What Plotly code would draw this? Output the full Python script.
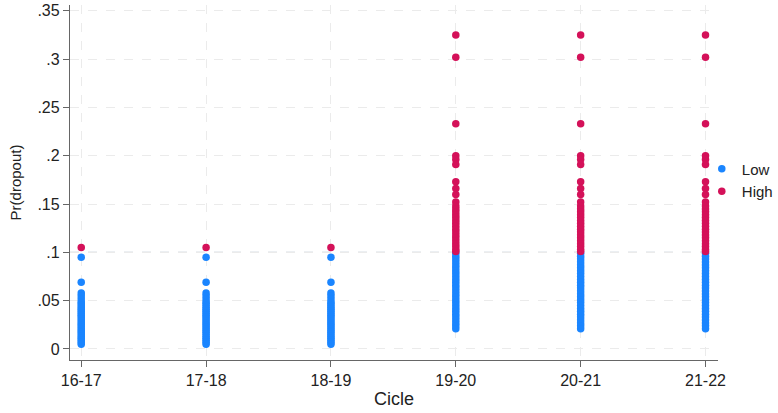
import plotly.graph_objects as go

cycles = ["16-17", "17-18", "18-19", "19-20", "20-21", "21-22"]

# Predicted dropout probabilities per cycle, split by risk group
low_early = [0.095, 0.069, 0.058, 0.055, 0.052, 0.049, 0.047, 0.045, 0.043, 0.041,
             0.039, 0.037, 0.035, 0.033, 0.031, 0.029, 0.027, 0.025, 0.023, 0.021,
             0.019, 0.017, 0.015, 0.013, 0.011, 0.009, 0.007, 0.005]
high_early = [0.105]

low_late = [0.099, 0.096, 0.093, 0.090, 0.087, 0.084, 0.081, 0.078, 0.075, 0.072,
            0.069, 0.066, 0.063, 0.060, 0.057, 0.054, 0.051, 0.048, 0.045, 0.042,
            0.039, 0.036, 0.033, 0.030, 0.027, 0.024, 0.021]
high_late = [0.325, 0.302, 0.233, 0.200, 0.196, 0.191, 0.173, 0.166, 0.160, 0.152,
             0.148, 0.145, 0.142, 0.139, 0.136, 0.133, 0.130, 0.127, 0.124, 0.121,
             0.118, 0.115, 0.112, 0.109, 0.106, 0.103, 0.101]

low_by_cycle = {c: (low_early if i < 3 else low_late) for i, c in enumerate(cycles)}
high_by_cycle = {c: (high_early if i < 3 else high_late) for i, c in enumerate(cycles)}

y_ticks = [0, 0.05, 0.1, 0.15, 0.2, 0.25, 0.3, 0.35]
y_tick_text = ["0", ".05", ".1", ".15", ".2", ".25", ".3", ".35"]
threshold = 0.1

LOW_COLOR = "#1a85ff"
HIGH_COLOR = "#d41159"


def flatten(groups):
    xs, ys = [], []
    for c in cycles:
        for v in groups[c]:
            xs.append(c)
            ys.append(v)
    return xs, ys


fig = go.Figure()
lx, ly = flatten(low_by_cycle)
hx, hy = flatten(high_by_cycle)
fig.add_trace(go.Scatter(x=lx, y=ly, mode="markers", name="Low",
                         marker=dict(color=LOW_COLOR, size=7.5, line=dict(width=0))))
fig.add_trace(go.Scatter(x=hx, y=hy, mode="markers", name="High",
                         marker=dict(color=HIGH_COLOR, size=7.5, line=dict(width=0))))

fig.add_shape(type="line", xref="paper", x0=0, x1=1, yref="y", y0=threshold, y1=threshold,
              line=dict(color="#b4c0cc", width=1.3, dash="dash"), layer="below")

font_family = "Liberation Sans, Arial, Helvetica, sans-serif"
fig.update_layout(
    width=778, height=413,
    margin=dict(l=70, r=60, t=5, b=53, autoexpand=False),
    paper_bgcolor="white", plot_bgcolor="white",
    font=dict(family=font_family, size=16, color="#222222"),
    showlegend=True,
    legend=dict(x=0.975, y=0.507, xanchor="left", yanchor="middle",
                font=dict(size=15, color="#222222"), itemsizing="trace",
                itemwidth=30, bgcolor="rgba(0,0,0,0)", tracegroupgap=0),
    xaxis=dict(
        type="category", categoryorder="array", categoryarray=cycles,
        range=[-0.09, 5.1],
        title=dict(text="Cicle", font=dict(size=18), standoff=4),
        showline=True, linecolor="#666666", linewidth=1.3, mirror=False,
        ticks="outside", ticklen=6, tickcolor="#666666",
        showgrid=True, gridcolor="#ebebeb", griddash="dash", gridwidth=1,
        zeroline=False,
    ),
    yaxis=dict(
        range=[-0.0114, 0.356],
        tickvals=y_ticks, ticktext=y_tick_text,
        title=dict(text="Pr(dropout)", font=dict(size=15), standoff=12),
        showline=True, linecolor="#666666", linewidth=1.3,
        ticks="outside", ticklen=6, tickcolor="#666666",
        showgrid=True, gridcolor="#ebebeb", griddash="dash", gridwidth=1,
        zeroline=False,
    ),
)

fig.write_html("out.html")
